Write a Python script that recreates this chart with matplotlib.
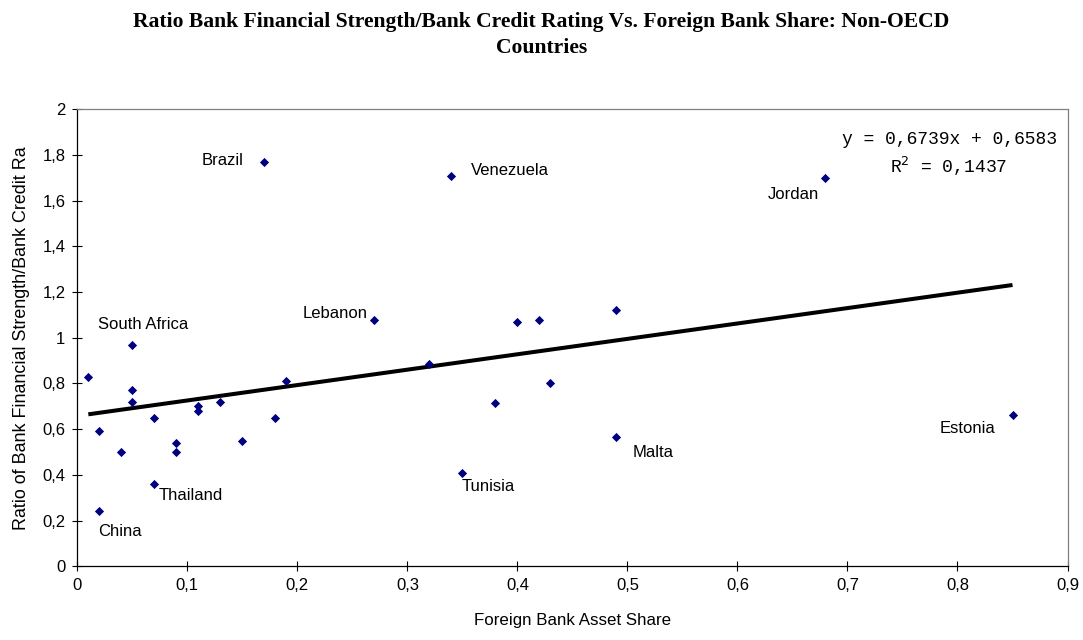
import matplotlib.pyplot as plt
import numpy as np

# foreign bank asset share vs ratio of bank financial strength / credit rating
foreign_share = [0.01, 0.02, 0.02, 0.04, 0.05, 0.05, 0.05, 0.07, 0.07, 0.09,
                 0.09, 0.11, 0.11, 0.13, 0.15, 0.17, 0.18, 0.19, 0.27, 0.32,
                 0.34, 0.35, 0.38, 0.40, 0.42, 0.43, 0.49, 0.49, 0.68, 0.85]
strength_ratio = [0.83, 0.59, 0.24, 0.50, 0.97, 0.77, 0.72, 0.65, 0.36, 0.54,
                  0.50, 0.70, 0.68, 0.72, 0.55, 1.77, 0.65, 0.81, 1.08, 0.885,
                  1.71, 0.41, 0.715, 1.07, 1.08, 0.80, 1.12, 0.565, 1.70, 0.66]

# labelled countries: (name, index of point, text offset in pixels)
country_labels = [
    ("Brazil", 15, (-42, 1)),
    ("Venezuela", 20, (59, 5)),
    ("Jordan", 28, (-32, -17)),
    ("Lebanon", 18, (-39, 6)),
    ("South Africa", 4, (11, 20)),
    ("Thailand", 8, (36, -11)),
    ("China", 2, (21, -20)),
    ("Tunisia", 21, (26, -14)),
    ("Malta", 27, (37, -15)),
    ("Estonia", 29, (-45, -13)),
]

# linear trend as printed on the chart
slope = 0.6739
intercept = 0.6583
r_squared = 0.1437

x_ticks = [0, 0.1, 0.2, 0.3, 0.4, 0.5, 0.6, 0.7, 0.8, 0.9]
x_ticklabels = ["0", "0,1", "0,2", "0,3", "0,4", "0,5", "0,6", "0,7", "0,8", "0,9"]
y_ticks = [0, 0.2, 0.4, 0.6, 0.8, 1.0, 1.2, 1.4, 1.6, 1.8, 2.0]
y_ticklabels = ["0", "0,2", "0,4", "0,6", "0,8", "1", "1,2", "1,4", "1,6", "1,8", "2"]

plt.rcParams['font.family'] = ['Liberation Sans', 'DejaVu Sans']

fig = plt.figure(figsize=(10.83, 6.4), dpi=100)
ax = fig.add_axes([0.0714, 0.1152, 0.9143, 0.714])

ax.scatter(foreign_share, strength_ratio, marker='D', s=22, color='#000080',
           linewidths=0, zorder=3)

# trendline over the data range
x_line = np.array([min(foreign_share), max(foreign_share)])
ax.plot(x_line, slope * x_line + intercept, color='black', lw=2.9, zorder=2,
        solid_capstyle='butt')

for name, i, off in country_labels:
    ax.annotate(name, (foreign_share[i], strength_ratio[i]), xytext=off,
                textcoords='offset pixels', ha='center', va='center',
                fontsize=12)

ax.text(949, 500, "y = 0,6739x + 0,6583", transform=None, ha='center',
        va='center', fontsize=13, family='Liberation Mono')
ax.text(949, 474, "R$^2$ = 0,1437", transform=None, ha='center',
        va='center', fontsize=13, family='Liberation Mono')

ax.set_xlim(0, 0.9)
ax.set_ylim(0, 2)
ax.set_xticks(x_ticks)
ax.set_xticklabels(x_ticklabels)
ax.set_yticks(y_ticks)
ax.set_yticklabels(y_ticklabels)
ax.tick_params(direction='inout', length=7.2, width=0.8, labelsize=12, pad=5)

for side in ['top', 'right']:
    ax.spines[side].set_color('#808080')
for side in ['left', 'bottom']:
    ax.spines[side].set_color('black')
for s in ax.spines.values():
    s.set_linewidth(0.9)

ax.set_xlabel("Foreign Bank Asset Share", fontsize=12.2, labelpad=14)
ax.set_ylabel("Ratio of Bank Financial Strength/Bank Credit Ra", fontsize=12.9,
              labelpad=9)

fig.text(0.5, 0.946, "Ratio Bank Financial Strength/Bank Credit Rating Vs. Foreign Bank Share: Non-OECD\nCountries",
         ha='center', va='center', fontsize=15.6, fontweight='bold',
         family='Liberation Serif', linespacing=1.4)

fig.savefig("out.png", dpi=100)
